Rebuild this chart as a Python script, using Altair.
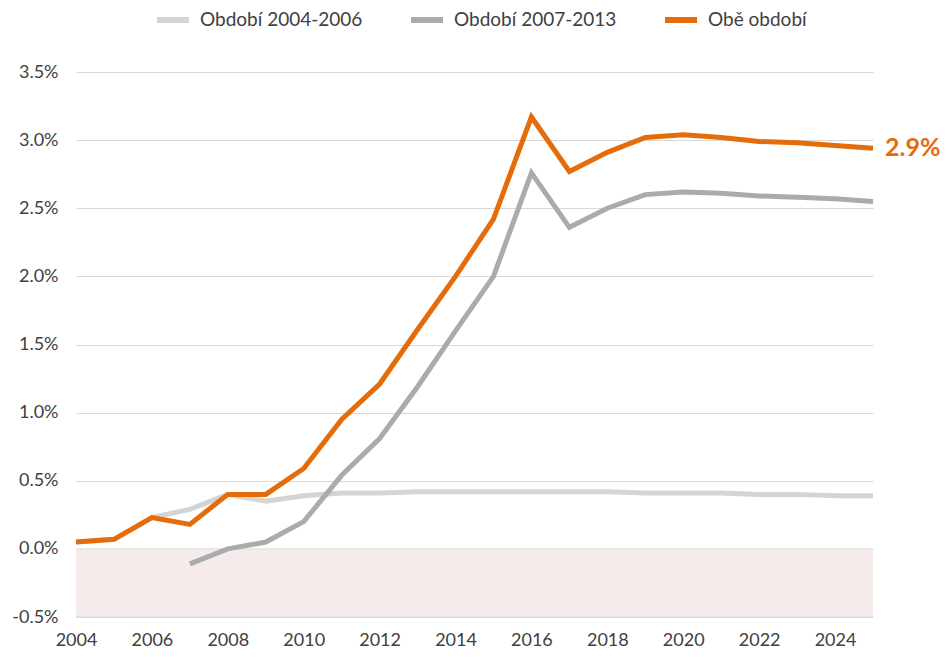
import altair as alt
import pandas as pd

years = list(range(2004, 2026))
series_names = ["Období 2004-2006", "Období 2007-2013", "Obě období"]
series_colors = ["#D4D4D4", "#ABABAB", "#E46C0A"]

obdobi_0406 = [0.05, 0.07, 0.23, 0.29, 0.40, 0.35, 0.39, 0.41, 0.41, 0.42, 0.42,
               0.42, 0.42, 0.42, 0.42, 0.41, 0.41, 0.41, 0.40, 0.40, 0.39, 0.39]
obdobi_0713 = [None, None, None, -0.11, 0.00, 0.05, 0.20, 0.54, 0.81, 1.19, 1.60,
               2.00, 2.76, 2.36, 2.50, 2.60, 2.62, 2.61, 2.59, 2.58, 2.57, 2.55]
obe_obdobi = [0.05, 0.07, 0.23, 0.18, 0.40, 0.40, 0.59, 0.95, 1.21, 1.61, 2.00,
              2.42, 3.17, 2.77, 2.91, 3.02, 3.04, 3.02, 2.99, 2.98, 2.96, 2.94]

x_ticks = list(range(2004, 2025, 2))
y_ticks = [-0.005, 0.0, 0.005, 0.01, 0.015, 0.02, 0.025, 0.03, 0.035]
band = [{"y": -0.005, "y2": 0.0}]
rule_levels = [-0.005, 0.0]

rows = []
for name, vals in zip(series_names, [obdobi_0406, obdobi_0713, obe_obdobi]):
    for yr, v in zip(years, vals):
        if v is not None:
            rows.append({"rok": yr, "hodnota": v / 100.0, "serie": name})
df = pd.DataFrame(rows)

W, H = 797, 545
FONT = "Lato"

xscale = alt.Scale(domain=[2004, 2025], nice=False, zero=False)
yscale = alt.Scale(domain=[-0.005, 0.035], nice=False)

xaxis = alt.Axis(values=x_ticks, format="d", grid=False, domain=False, ticks=False,
                 labelFlush=False, labelPadding=14, title=None, labelFontSize=18,
                 labelFont=FONT, labelColor="#404040")
yaxis = alt.Axis(values=y_ticks, labelExpr="replace(format(datum.value, '.1%'), '\u2212', '-')",
                 grid=True, gridColor="#D9D9D9", gridWidth=1, domain=False, ticks=False,
                 labelPadding=18, title=None, labelFontSize=18, labelFont=FONT,
                 labelColor="#404040")

color = alt.Color("serie:N", scale=alt.Scale(domain=series_names, range=series_colors),
                  legend=alt.Legend(title=None, orient="none", direction="horizontal",
                                    legendX=78, legendY=-71, symbolType="stroke",
                                    symbolStrokeWidth=6, symbolSize=1024, labelOffset=8,
                                    columnPadding=36, labelFontSize=19, labelFont=FONT,
                                    labelLimit=400, labelColor="#404040", padding=0))

band_layer = alt.Chart(pd.DataFrame(band)).mark_rect(color="#F5EBEB").encode(
    x=alt.value(0), x2=alt.value(W),
    y=alt.Y("y:Q", scale=yscale, axis=yaxis), y2="y2:Q")

rule_layer = alt.Chart(pd.DataFrame({"y": rule_levels})).mark_rule(
    color="#D9D9D9", strokeWidth=1).encode(y=alt.Y("y:Q", scale=yscale))

base = alt.Chart(df)
lines = []
for name in series_names:
    lines.append(base.transform_filter(alt.datum.serie == name).mark_line(
        strokeWidth=5).encode(
        x=alt.X("rok:Q", scale=xscale, axis=xaxis),
        y=alt.Y("hodnota:Q", scale=yscale),
        color=color))

label = base.transform_filter(
    (alt.datum.serie == "Obě období") & (alt.datum.rok == 2025)
).mark_text(align="left", baseline="middle", dx=12, fontSize=25, fontWeight="bold",
            font=FONT, color="#E46C0A").encode(
    x=alt.X("rok:Q", scale=xscale),
    y=alt.Y("hodnota:Q", scale=yscale),
    text=alt.Text("hodnota:Q", format=".1%"))

chart = alt.layer(band_layer, rule_layer, *lines, label).properties(
    width=W, height=H,
    autosize=alt.AutoSizeParams(type="none"),
    padding={"left": 68, "top": 64, "right": 68, "bottom": 32},
).configure_view(stroke=None)

chart.save("out.html", embed_options={"renderer": "svg", "actions": False})
